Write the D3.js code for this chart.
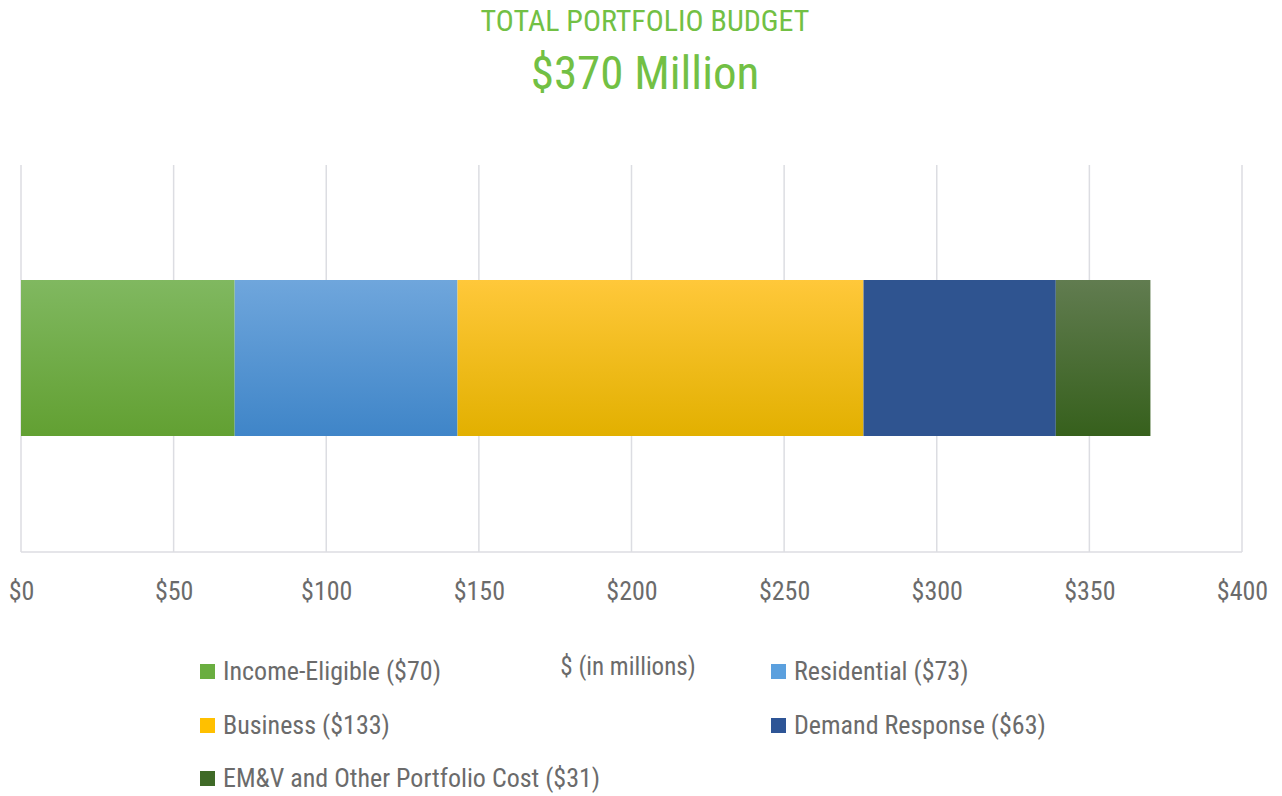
<!DOCTYPE html>
<html><head><meta charset="utf-8">
<script src="https://cdn.jsdelivr.net/npm/d3@7"></script>
<style>
html,body{margin:0;padding:0;background:#fff;}
svg text{font-family:"Liberation Sans Narrow","Roboto Condensed","DejaVu Sans Condensed",sans-serif;}
</style></head>
<body>
<svg id="chart" width="1282" height="796"></svg>
<script>
const categories = ["Income-Eligible ($70)", "Residential ($73)", "Business ($133)", "Demand Response ($63)", "EM&V and Other Portfolio Cost ($31)"];
const values = [70, 73, 133, 63, 31];
const tickValues = [0, 50, 100, 150, 200, 250, 300, 350, 400];
const tickLabels = ["$0", "$50", "$100", "$150", "$200", "$250", "$300", "$350", "$400"];
const gradients = [["#80b860", "#62a032"], ["#6fa6dc", "#3f85c8"], ["#ffc83a", "#e2b000"], ["#2f5490", "#2f5490"], ["#617c50", "#36601c"]];
const legendColors = ["#6aae40", "#5ba0de", "#ffc000", "#2e5596", "#3f6a27"];

const svg = d3.select("#chart");
const x = d3.scaleLinear().domain([0, 400]).range([21, 1242]);

const defs = svg.append("defs");
gradients.forEach((g, i) => {
  const lg = defs.append("linearGradient").attr("id", "g" + i).attr("x1", 0).attr("y1", 0).attr("x2", 0).attr("y2", 1);
  lg.append("stop").attr("offset", "0%").attr("stop-color", g[0]);
  lg.append("stop").attr("offset", "100%").attr("stop-color", g[1]);
});

// title
svg.append("text").attr("x", 645).attr("y", 31).attr("text-anchor", "middle")
  .attr("fill", "#72c044").style("font-size", "30px").text("TOTAL PORTFOLIO BUDGET");
svg.append("text").attr("x", 645).attr("y", 89).attr("text-anchor", "middle")
  .attr("fill", "#72c044").style("font-size", "47px").text("$370 Million");

// grid
svg.append("g").selectAll("line").data(tickValues).join("line")
  .attr("x1", d => x(d)).attr("x2", d => x(d)).attr("y1", 165).attr("y2", 552)
  .attr("stroke", "#dcdde2").attr("stroke-width", 1.5);
svg.append("line").attr("x1", x(0)).attr("x2", x(400)).attr("y1", 552).attr("y2", 552)
  .attr("stroke", "#dcdde2").attr("stroke-width", 1.5);

// axis
const axis = d3.axisBottom(x).tickValues(tickValues).tickFormat((d, i) => tickLabels[i]).tickSize(0).tickPadding(0);
const ag = svg.append("g").attr("transform", "translate(0,600)").call(axis);
ag.select(".domain").remove();
ag.selectAll("text").attr("dy", 0).attr("fill", "#6b6b6b").style("font-size", "26px")
  .style("font-family", '"Liberation Sans Narrow","Roboto Condensed","DejaVu Sans Condensed",sans-serif');

// stacked bar
let cum = 0;
const segs = values.map((v, i) => { const s = {i, x0: cum, x1: cum + v}; cum += v; return s; });
svg.append("g").selectAll("rect").data(segs).join("rect")
  .attr("x", d => x(d.x0)).attr("width", d => x(d.x1) - x(d.x0))
  .attr("y", 280).attr("height", 156)
  .attr("fill", d => "url(#g" + d.i + ")");

// legend
const legendPos = [[200, 680], [771, 680], [200, 734], [771, 734], [200, 787]];
const lg = svg.append("g").selectAll("g").data(categories).join("g")
  .attr("transform", (d, i) => `translate(${legendPos[i][0]},${legendPos[i][1]})`);
lg.append("rect").attr("x", 0).attr("y", -16).attr("width", 15).attr("height", 15)
  .attr("fill", (d, i) => legendColors[i]);
lg.append("text").attr("x", 23).attr("y", 0).attr("fill", "#6b6b6b").style("font-size", "26px").text(d => d);

svg.append("text").attr("x", 628).attr("y", 675).attr("text-anchor", "middle")
  .attr("fill", "#6b6b6b").style("font-size", "25px").text("$ (in millions)");
</script>
</body></html>
